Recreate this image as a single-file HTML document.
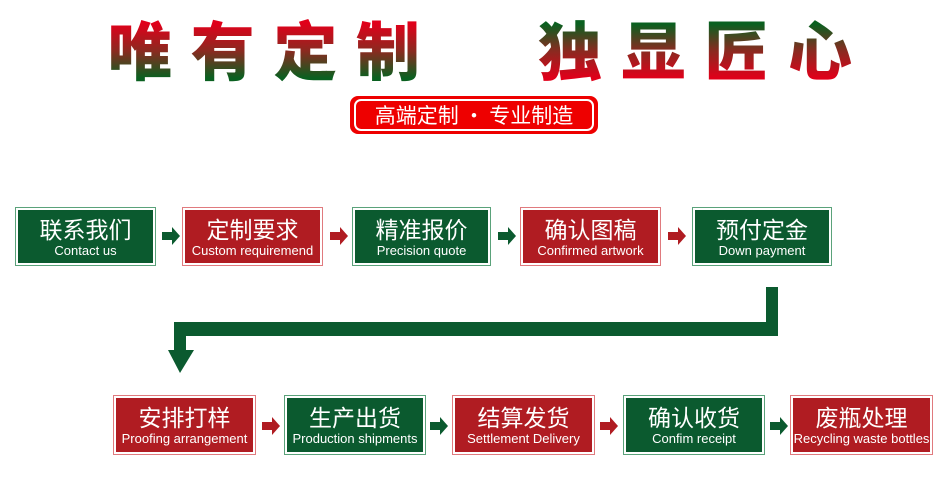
<!DOCTYPE html>
<html><head><meta charset="utf-8"><style>
body{margin:0;width:950px;height:500px;background:#fff;position:relative;overflow:hidden;font-family:"Liberation Sans","Noto Sans CJK SC",sans-serif}
.b{position:absolute;box-sizing:border-box;border:1px solid;padding:2px;background:#fff}
.b div{width:100%;height:100%;color:#fff;text-align:center;box-sizing:border-box;white-space:nowrap}
.b .c{font-size:23px;line-height:26px;padding-top:7px;display:block}
.b .e{font-size:13px;line-height:16px;display:block}
.g{border-color:#5aa27a}.g div{background:#0b5a2f}
.r{border-color:#e07a7e}.r div{background:#b01c22}
</style></head><body>
<svg style="position:absolute;left:0;top:0" width="950" height="100">
<defs>
<linearGradient id="g1" gradientUnits="userSpaceOnUse" x1="0" y1="24" x2="0" y2="78"><stop offset="0" stop-color="#e0001a"/><stop offset="0.5" stop-color="#8a2a20"/><stop offset="1" stop-color="#0a6020"/></linearGradient>
<linearGradient id="g2" gradientUnits="userSpaceOnUse" x1="0" y1="24" x2="0" y2="78"><stop offset="0" stop-color="#0a6020"/><stop offset="0.5" stop-color="#8a2a20"/><stop offset="1" stop-color="#e0001a"/></linearGradient>
</defs>
<text x="108" y="75" font-family="Noto Sans CJK SC, sans-serif" font-weight="900" font-size="64" textLength="312" lengthAdjust="spacing" fill="url(#g1)">唯有定制</text>
<text x="538" y="75" font-family="Noto Sans CJK SC, sans-serif" font-weight="900" font-size="64" textLength="314" lengthAdjust="spacing" fill="url(#g2)">独显匠心</text>
</svg>
<div style="position:absolute;left:350px;top:96px;width:248px;height:38px;background:#ee0000;border-radius:8px"></div>
<div style="position:absolute;left:354px;top:99px;width:236px;height:28px;border:2px solid #fff;border-radius:7px;color:#fff;font-family:'Noto Sans CJK SC',sans-serif;font-size:21px;line-height:28px;text-align:center;white-space:nowrap">高端定制 · 专业制造</div>

<div class="b g" style="left:15px;top:207px;width:141px;height:59px"><div><span class="c">联系我们</span><span class="e">Contact us</span></div></div>
<div class="b r" style="left:182px;top:207px;width:141px;height:59px"><div><span class="c">定制要求</span><span class="e">Custom requiremend</span></div></div>
<div class="b g" style="left:352px;top:207px;width:139px;height:59px"><div><span class="c">精准报价</span><span class="e">Precision quote</span></div></div>
<div class="b r" style="left:520px;top:207px;width:141px;height:59px"><div><span class="c">确认图稿</span><span class="e">Confirmed artwork</span></div></div>
<div class="b g" style="left:692px;top:207px;width:140px;height:59px"><div><span class="c">预付定金</span><span class="e">Down payment</span></div></div>

<div class="b r" style="left:113px;top:395px;width:143px;height:60px"><div><span class="c">安排打样</span><span class="e">Proofing arrangement</span></div></div>
<div class="b g" style="left:284px;top:395px;width:142px;height:60px"><div><span class="c">生产出货</span><span class="e">Production shipments</span></div></div>
<div class="b r" style="left:452px;top:395px;width:143px;height:60px"><div><span class="c">结算发货</span><span class="e">Settlement Delivery</span></div></div>
<div class="b g" style="left:623px;top:395px;width:142px;height:60px"><div><span class="c">确认收货</span><span class="e">Confim receipt</span></div></div>
<div class="b r" style="left:790px;top:395px;width:143px;height:60px"><div><span class="c">废瓶处理</span><span class="e">Recycling waste bottles</span></div></div>

<svg style="position:absolute;left:0;top:0" width="950" height="500">
<defs>
<g id="ag"><path d="M0 -4H10V-9L18 0L10 9V4H0Z" fill="#0b5a2f"/></g>
<g id="ar"><path d="M0 -4H10V-9L18 0L10 9V4H0Z" fill="#b01c22"/></g>
</defs>
<use href="#ag" x="162" y="236"/>
<use href="#ar" x="330" y="236"/>
<use href="#ag" x="498" y="236"/>
<use href="#ar" x="668" y="236"/>
<use href="#ar" x="262" y="426"/>
<use href="#ag" x="430" y="426"/>
<use href="#ar" x="600" y="426"/>
<use href="#ag" x="770" y="426"/>
<path d="M766 287H778V336H186V350H194L180 373L168 350H174V322H766Z" fill="#0b5a2f"/>
</svg>
</body></html>
